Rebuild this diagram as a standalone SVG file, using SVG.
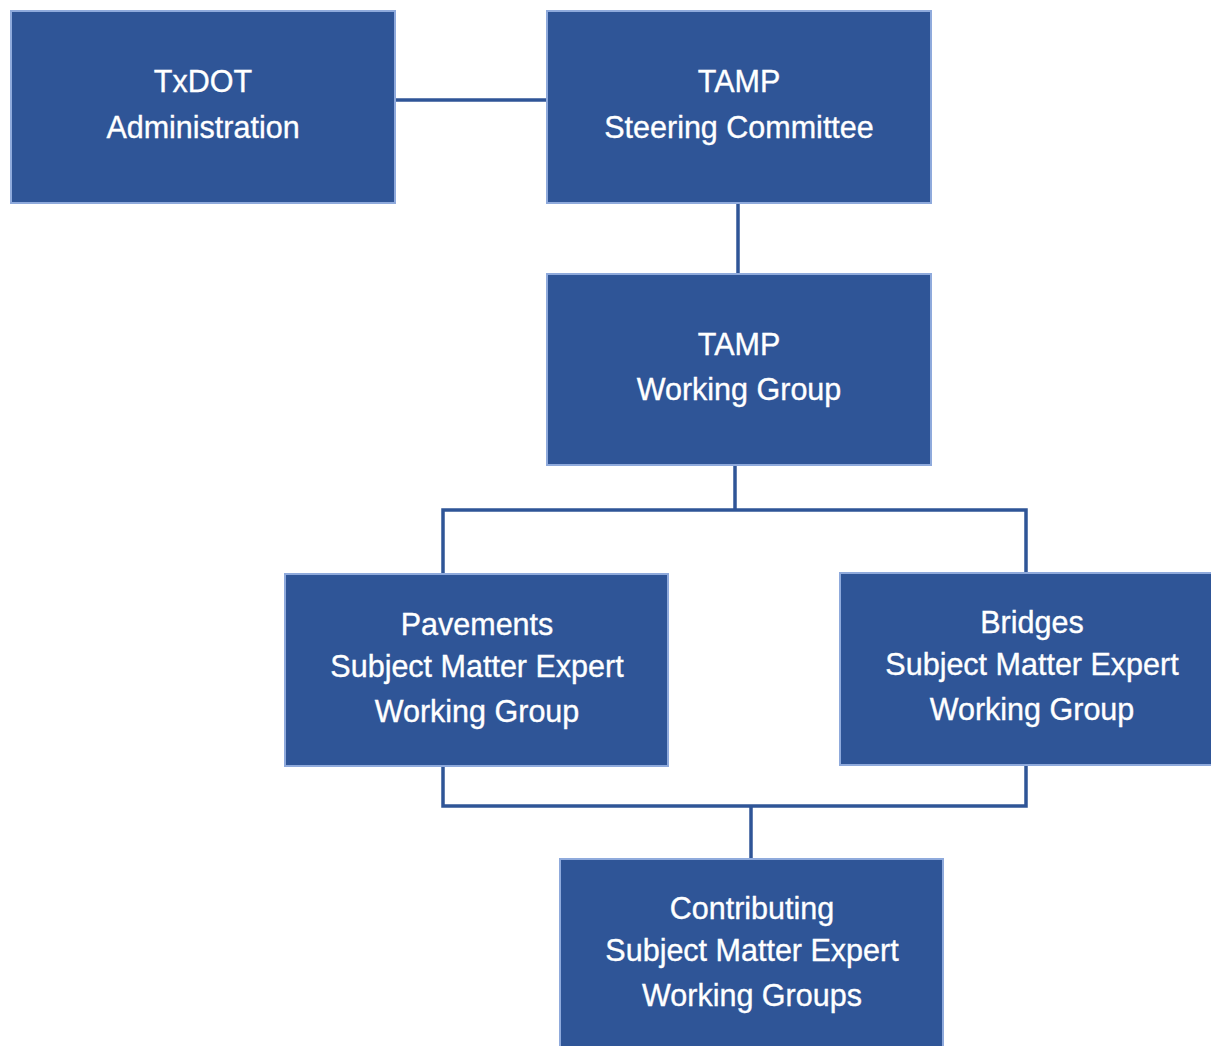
<svg xmlns="http://www.w3.org/2000/svg" width="1211" height="1046" viewBox="0 0 1211 1046">
<style>
.box{fill:#2F5597;stroke:#8FAADC;stroke-width:2}
.lbl{font-family:"Liberation Sans",Arial,sans-serif;font-size:30.5px;fill:#FFFFFF;stroke:#FFFFFF;stroke-width:0.35;text-anchor:middle}
.con{fill:none;stroke:#2F5597;stroke-width:3.5}
</style>
<rect width="1211" height="1046" fill="#FFFFFF"/>
<g id="connectors">
<line class="con" x1="395" y1="100" x2="547" y2="100"/>
<line class="con" x1="738" y1="203" x2="738" y2="274"/>
<line class="con" x1="735" y1="465" x2="735" y2="511"/>
<polyline class="con" points="443,574 443,510 1026,510 1026,573"/>
<polyline class="con" points="443,766 443,806 1026,806 1026,765"/>
<line class="con" x1="751" y1="806" x2="751" y2="859"/>
</g>
<g id="txdot">
<rect class="box" x="11" y="11" width="384" height="192"/>
<text class="lbl" x="203" y="92">TxDOT</text>
<text class="lbl" x="203" y="138">Administration</text>
</g>
<g id="steering">
<rect class="box" x="547" y="11" width="384" height="192"/>
<text class="lbl" x="739" y="92">TAMP</text>
<text class="lbl" x="739" y="138">Steering Committee</text>
</g>
<g id="working">
<rect class="box" x="547" y="274" width="384" height="191"/>
<text class="lbl" x="739" y="355">TAMP</text>
<text class="lbl" x="739" y="400">Working Group</text>
</g>
<g id="pavements">
<rect class="box" x="285" y="574" width="383" height="192"/>
<text class="lbl" x="477" y="635">Pavements</text>
<text class="lbl" x="477" y="677">Subject Matter Expert</text>
<text class="lbl" x="477" y="722">Working Group</text>
</g>
<g id="bridges">
<rect class="box" x="840" y="573" width="384" height="192"/>
<text class="lbl" x="1032" y="633">Bridges</text>
<text class="lbl" x="1032" y="675">Subject Matter Expert</text>
<text class="lbl" x="1032" y="720">Working Group</text>
</g>
<g id="contributing">
<rect class="box" x="560" y="859" width="383" height="200"/>
<text class="lbl" x="752" y="919">Contributing</text>
<text class="lbl" x="752" y="961">Subject Matter Expert</text>
<text class="lbl" x="752" y="1006">Working Groups</text>
</g>
</svg>
